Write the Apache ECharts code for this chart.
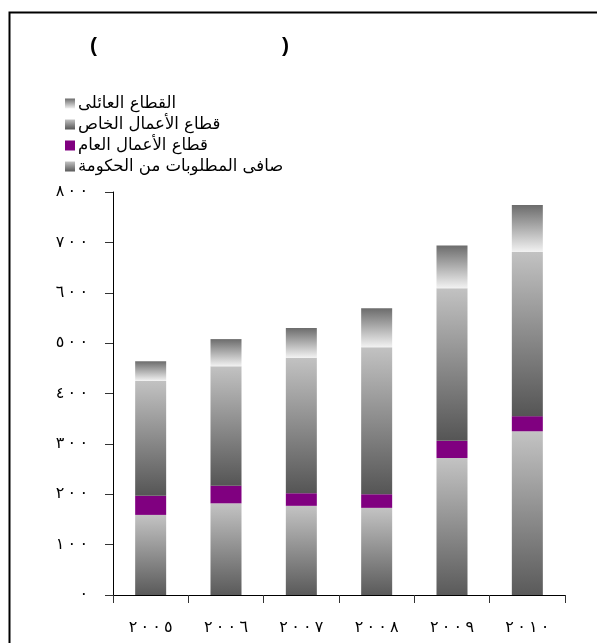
<!DOCTYPE html>
<html>
<head>
<meta charset="utf-8">
<script src="https://cdn.jsdelivr.net/npm/echarts@6/dist/echarts.min.js"></script>
<style>
  html, body { margin: 0; padding: 0; background: #fff; }
  #chart { width: 597px; height: 643px; }
</style>
</head>
<body>
<div id="chart"></div>
<script>
// Years on the category axis (Arabic-Indic digits)
const years = ['٢٠٠٥', '٢٠٠٦', '٢٠٠٧', '٢٠٠٨', '٢٠٠٩', '٢٠١٠'];

// Series names
const nameGov = 'صافى المطلوبات من الحكومة';
const namePublic = 'قطاع الأعمال العام';
const namePrivate = 'قطاع الأعمال الخاص';
const nameHousehold = 'القطاع العائلى';

// Stacked values per year
const govValues = [159, 182, 177, 173, 272, 325];
const publicValues = [38, 35, 25, 27, 34, 30];
const privateValues = [228, 237, 269, 292, 303, 326];
const householdValues = [39, 54, 59, 77, 85, 93];

// Value axis range
const yMin = 0, yMax = 800, yStep = 100;

const arabicDigits = ['٠','١','٢','٣','٤','٥','٦','٧','٨','٩'];
function toArabic(n) {
  return String(n).replace(/[0-9]/g, d => arabicDigits[+d]);
}
// Widely spaced digits; LRM marks keep the digit order left-to-right
function spaced(s) {
  return '\u200E' + Array.from(s).join('\u2009\u200E');
}

function vGrad(top, bottom) {
  return new echarts.graphic.LinearGradient(0, 0, 0, 1, [
    { offset: 0, color: top },
    { offset: 1, color: bottom }
  ]);
}

const chart = echarts.init(document.getElementById('chart'), null, { renderer: 'canvas' });
const FONT = '"DejaVu Sans", Arial, sans-serif';
const PAREN = { fontSize: 21, fontWeight: 'bold', color: '#000', fontFamily: 'Arial, "Liberation Sans"' };

const option = {
  backgroundColor: '#ffffff',
  animation: false,
  title: [
    { text: '(', left: 85, top: 31, textStyle: PAREN },
    { text: ')', left: 277, top: 31, textStyle: PAREN }
  ],
  legend: {
    orient: 'vertical',
    left: 60,
    top: 90,
    itemWidth: 10,
    itemHeight: 10,
    itemGap: 4,
    icon: 'rect',
    data: [nameHousehold, namePrivate, namePublic, nameGov],
    textStyle: { fontSize: 16.5, color: '#000', fontFamily: FONT, padding: [0, 0, 0, -2] }
  },
  grid: { left: 113, right: 32, top: 192, bottom: 48, containLabel: false },
  xAxis: {
    type: 'category',
    data: years,
    axisLine: { lineStyle: { color: '#000', width: 1 } },
    axisTick: { show: true, length: 8, lineStyle: { color: '#333' } },
    axisLabel: { margin: 25, fontSize: 16, color: '#000', fontFamily: FONT, formatter: v => spaced(v) }
  },
  yAxis: {
    type: 'value',
    min: yMin,
    max: yMax,
    interval: yStep,
    splitLine: { show: false },
    axisLine: { show: true, lineStyle: { color: '#000', width: 1 } },
    axisTick: { show: true, length: 8, lineStyle: { color: '#333' } },
    axisLabel: { margin: 25, fontSize: 16, color: '#000', fontFamily: FONT, formatter: v => spaced(toArabic(v)) }
  },
  series: [
    {
      name: nameGov, type: 'bar', stack: 'total', barWidth: 31,
      itemStyle: { color: vGrad('#c3c3c3', '#5a5a5a') },
      data: govValues
    },
    {
      name: namePublic, type: 'bar', stack: 'total', barWidth: 31,
      itemStyle: { color: '#800080' },
      data: publicValues
    },
    {
      name: namePrivate, type: 'bar', stack: 'total', barWidth: 31,
      itemStyle: { color: vGrad('#c2c2c2', '#555555') },
      data: privateValues
    },
    {
      name: nameHousehold, type: 'bar', stack: 'total', barWidth: 31,
      itemStyle: { color: vGrad('#6c6c6c', '#f2f2f2') },
      data: householdValues
    }
  ],
  graphic: [
    {
      type: 'rect', left: 7, top: 10, z: 100, silent: true,
      shape: { width: 700, height: 700 },
      style: { fill: 'none', stroke: '#000', lineWidth: 2 }
    }
  ]
};

chart.setOption(option);
</script>
</body>
</html>
